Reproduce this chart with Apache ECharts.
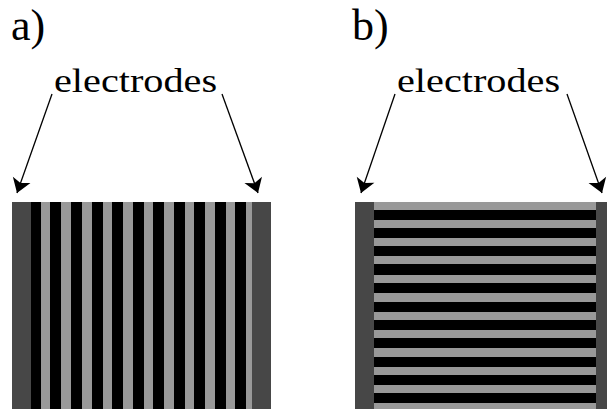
<!DOCTYPE html>
<html>
<head>
<meta charset="utf-8">
<script src="https://cdn.jsdelivr.net/npm/echarts@6/dist/echarts.min.js"></script>
<style>html,body{margin:0;padding:0;background:#fff;}#c{width:607px;height:409px;}</style>
</head>
<body>
<div id="c"></div>
<script>
// Diagram units (one unit ≈ one pixel of the reference)
const stripTop = 202;
const stripBottom = 409;
// Panel a: vertical stripes (x ranges)
const panelAElectrodes = [[12,31],[252,271]];
const panelABlack = [[31,41],[50,61],[71,82],[92,103],[112,123],[133,144],[153,164],[174,185],[194,205],[215,226],[235,246]];
const panelAGray = [[41,50],[61,71],[82,92],[103,112],[123,133],[144,153],[164,174],[185,194],[205,215],[226,235],[246,252]];
// Panel b: horizontal stripes (y ranges), spanning x between electrodes
const panelBElectrodes = [[355,374],[596,607]];
const panelBSpan = [374,596];
const panelBGray = [[202,210],[220,228],[238,246],[256,264],[275,283],[293,302],[312,320],[330,338],[348,357],[367,375],[385,393],[403,409]];
const panelBBlack = [[210,220],[228,238],[246,256],[264,275],[283,293],[302,312],[320,330],[338,348],[357,367],[375,385],[393,403]];
// Arrows: [start, end]
const arrows = [
  [[52,94],[17,193]], [[222,94],[258,193]],
  [[395,94],[361,193]], [[567,94],[602,193]]
];
// Labels
const panelLabels = [{text:'a)', x:11, y:25}, {text:'b)', x:352, y:25}];
const electrodeLabels = [{text:'electrodes', x:54, y:80.5}, {text:'electrodes', x:397, y:80.5}];

const COLORS = {electrode:'#474747', black:'#000000', gray:'#999999'};
const FONT = '"Liberation Serif", "Times New Roman", serif';

const rects = [];
panelAElectrodes.forEach(r => rects.push([r[0], r[1], stripTop, stripBottom, 'electrode']));
panelABlack.forEach(r => rects.push([r[0], r[1], stripTop, stripBottom, 'black']));
panelAGray.forEach(r => rects.push([r[0], r[1], stripTop, stripBottom, 'gray']));
panelBElectrodes.forEach(r => rects.push([r[0], r[1], stripTop, stripBottom, 'electrode']));
panelBGray.forEach(r => rects.push([panelBSpan[0], panelBSpan[1], r[0], r[1], 'gray']));
panelBBlack.forEach(r => rects.push([panelBSpan[0], panelBSpan[1], r[0], r[1], 'black']));

const chart = echarts.init(document.getElementById('c'), null, {renderer:'svg'});
const graphics = [];
panelLabels.forEach(l => graphics.push({type:'text', x:l.x, y:l.y, style:{text:l.text, fontFamily:FONT, fontSize:44, fill:'#000', textAlign:'left', verticalAlign:'middle'}}));
electrodeLabels.forEach(l => graphics.push({type:'text', x:l.x, y:l.y, scaleX:1.22, originX:0, style:{text:l.text, fontFamily:FONT, fontSize:33, fill:'#000', textAlign:'left', verticalAlign:'middle'}}));

chart.setOption({
  animation:false,
  grid:{left:0,right:0,top:0,bottom:0},
  xAxis:{type:'value', min:0, max:607, show:false},
  yAxis:{type:'value', min:0, max:409, inverse:true, show:false},
  graphic: graphics,
  series:[
    {
      type:'custom',
      data: rects,
      renderItem: function(params, api){
        const x0 = api.value(0), x1 = api.value(1), y0 = api.value(2), y1 = api.value(3);
        const p0 = api.coord([x0, y0]);
        const p1 = api.coord([x1, y1]);
        const kind = rects[params.dataIndex][4];
        return {type:'rect', shape:{x:p0[0], y:p0[1], width:p1[0]-p0[0], height:p1[1]-p0[1]}, style:{fill:COLORS[kind]}};
      },
      silent:true
    },
    {
      type:'lines',
      coordinateSystem:'cartesian2d',
      data: arrows.map(a => ({coords:a})),
      symbol:['none','arrow'],
      symbolSize:[9,14],
      lineStyle:{color:'#000', width:1.3, opacity:1},
      silent:true
    }
  ]
});
</script>
</body>
</html>
